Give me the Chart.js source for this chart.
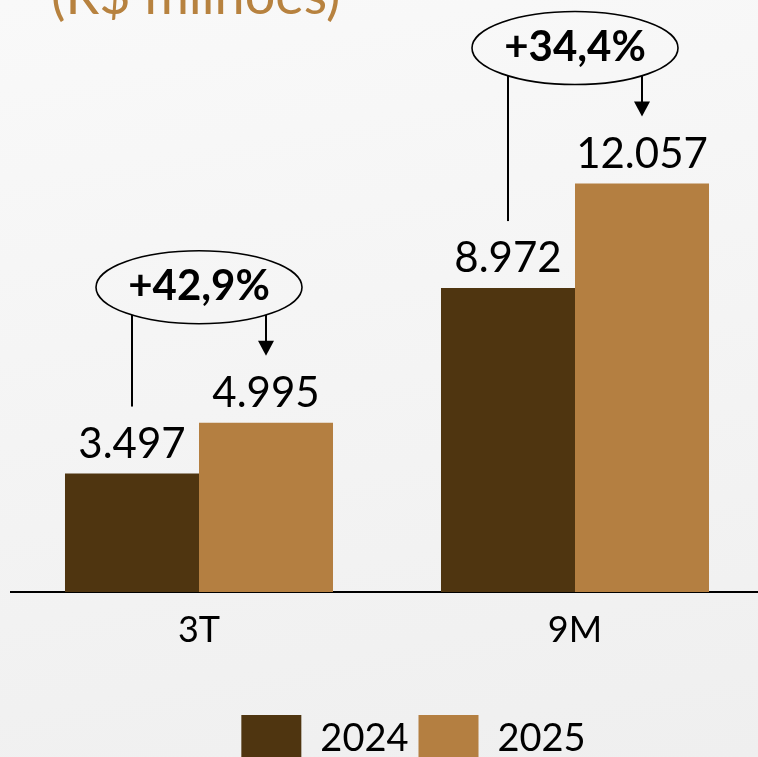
<!DOCTYPE html>
<html>
<head>
<meta charset="utf-8">
<script src="https://cdn.jsdelivr.net/npm/chart.js@4/dist/chart.umd.min.js"></script>
<style>
  html, body { margin: 0; padding: 0; width: 758px; height: 757px; overflow: hidden;
    background: linear-gradient(170deg, #f9f9f9 0%, #f4f4f4 50%, #efefef 100%); }
  #wrap { position: absolute; left: 0; top: 0; }
  canvas { display: block; }
</style>
</head>
<body>
<div id="wrap"><canvas id="c" width="816" height="773"></canvas></div>
<script>
// ---- data ----
const titleText = '(R$ milhões)';
const categories = ['3T', '9M'];
const seriesLabels = ['2024', '2025'];
const values2024 = [3497, 8972];
const values2025 = [4995, 12057];
const growthLabels = ['+42,9%', '+34,4%'];

// ---- styles ----
const COLOR_2024 = '#4f3510';
const COLOR_2025 = '#b47f41';
const TITLE_COLOR = '#b7823f';

function fmt(v) {
  return String(v).replace(/\B(?=(\d{3})+(?!\d))/g, '.');
}

const annotations = {
  id: 'annotations',
  afterDatasetsDraw(chart) {
    const ctx = chart.ctx;
    const m0 = chart.getDatasetMeta(0);
    const m1 = chart.getDatasetMeta(1);
    ctx.save();
    // value labels
    ctx.fillStyle = '#000';
    ctx.font = '42px Lato';
    ctx.textAlign = 'center';
    ctx.textBaseline = 'alphabetic';
    [m0, m1].forEach((meta, di) => {
      const vals = di === 0 ? values2024 : values2025;
      meta.data.forEach((bar, i) => {
        ctx.fillText(fmt(vals[i]), bar.x, bar.y - 16);
      });
    });
    // growth ellipses + connectors
    categories.forEach((cat, i) => {
      const b0 = m0.data[i], b1 = m1.data[i];
      const cx = (b0.x + b1.x) / 2;
      const cy = b1.y - 135.5;
      const rx = 103, ry = 36.5;
      ctx.strokeStyle = '#000';
      ctx.lineWidth = 1.6;
      ctx.beginPath();
      ctx.ellipse(cx, cy, rx, ry, 0, 0, Math.PI * 2);
      ctx.stroke();
      ctx.fillStyle = '#000';
      ctx.font = 'bold 42px Lato';
      ctx.textAlign = 'center';
      ctx.textBaseline = 'alphabetic';
      ctx.fillText(growthLabels[i], cx, cy + 13);
      const dx = Math.abs(b1.x - cx);
      const startY = cy + ry * Math.sqrt(Math.max(0, 1 - (dx / rx) * (dx / rx)));
      ctx.lineWidth = 2;
      // left line
      ctx.beginPath();
      ctx.moveTo(b0.x, startY);
      ctx.lineTo(b0.x, b0.y - 67);
      ctx.stroke();
      // right arrow
      const tip = b1.y - 67;
      ctx.beginPath();
      ctx.moveTo(b1.x, startY);
      ctx.lineTo(b1.x, tip - 12);
      ctx.stroke();
      ctx.beginPath();
      ctx.moveTo(b1.x - 8, tip - 15);
      ctx.lineTo(b1.x + 8, tip - 15);
      ctx.lineTo(b1.x, tip);
      ctx.closePath();
      ctx.fill();
    });
    ctx.restore();
  },
  afterDraw(chart) {
    const ctx = chart.ctx;
    ctx.save();
    ctx.fillStyle = TITLE_COLOR;
    ctx.font = '54px Lato';
    ctx.textAlign = 'left';
    ctx.textBaseline = 'alphabetic';
    ctx.fillText(titleText, 51, 14);
    ctx.restore();
  }
};

function draw() {
  new Chart(document.getElementById('c'), {
    type: 'bar',
    data: {
      labels: categories,
      datasets: [
        { label: seriesLabels[0], data: values2024, backgroundColor: COLOR_2024, borderWidth: 0 },
        { label: seriesLabels[1], data: values2025, backgroundColor: COLOR_2025, borderWidth: 0 }
      ]
    },
    options: {
      responsive: false,
      animation: false,
      devicePixelRatio: 1,
      layout: { padding: { top: 50, left: 11, right: 0, bottom: 0 } },
      datasets: { bar: { categoryPercentage: 0.7128, barPercentage: 1 } },
      scales: {
        x: {
          grid: { display: false },
          border: { display: true, color: '#000', width: 2 },
          ticks: { color: '#000', font: { family: 'Lato', size: 36 }, padding: 9 },
          afterFit(scale) { scale.height = 113; }
        },
        y: {
          position: 'right',
          min: 0, max: 16000,
          grid: { display: false },
          border: { display: false },
          ticks: { display: false },
          afterFit(scale) { scale.width = 53; }
        }
      },
      plugins: {
        legend: {
          position: 'bottom',
          labels: {
            boxWidth: 60, boxHeight: 48, padding: 10,
            color: '#000', font: { family: 'Lato', size: 38 }
          }
        },
        tooltip: { enabled: false },
        title: { display: false }
      }
    },
    plugins: [annotations]
  });
}

if (document.fonts && document.fonts.load) {
  Promise.all([document.fonts.load('42px Lato'), document.fonts.load('bold 42px Lato')])
    .then(draw, draw);
} else { draw(); }
</script>
</body>
</html>
